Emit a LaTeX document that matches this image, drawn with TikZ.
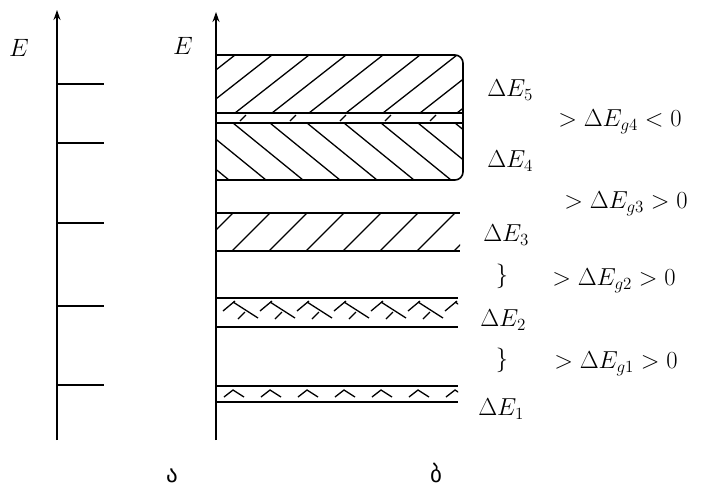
\documentclass[tikz,border=0pt]{standalone}
\usepackage{fontspec}
\newfontfamily\geofont{DejaVu Sans}
\usetikzlibrary{arrows.meta}
\tikzset{
  ax/.style={line width=1.7pt, -{Stealth[length=10pt,width=7pt]}},
  tick/.style={line width=1.6pt},
  bandline/.style={line width=1.6pt},
  hatch/.style={line width=1.3pt},
  lab/.style={font=\fontsize{17.28}{20}\selectfont, scale=1.42, transform shape, inner sep=0pt},
  axlab/.style={font=\fontsize{17.28}{20}\selectfont, scale=1.45, transform shape, inner sep=0pt},
  geo/.style={font=\geofont\fontsize{23}{26}\selectfont, inner sep=0pt}
}
\begin{document}
\begin{tikzpicture}[x=1pt,y=-1pt]
\useasboundingbox (0,0) rectangle (701,491);
% ---------- left diagram (a) ----------
\coordinate (la0) at (57,440);
\coordinate (la1) at (57,10);
\draw[ax] (la0) -- (la1);
\node[axlab] (lE) at (19,48) {$E$};
\foreach \y in {84,143,223,306,385}{
  \draw[tick] (57,\y) -- (104,\y);
}
\node[geo] (ga) at (172,476) {ა};
% ---------- right diagram (b) ----------
\coordinate (ra0) at (216,440);
\coordinate (ra1) at (216,12);
\draw[ax] (ra0) -- (ra1);
\node[axlab] (rE) at (183,46) {$E$};
\node[geo] (gb) at (436,473) {ბ};
% band 5 and 4 (overlapping block)
\begin{scope}
  \clip (216,55) rectangle (463,113);
  \foreach \k in {0,...,9}{
    \draw[hatch] ({235+37*\k},55) -- ({161+37*\k},113);
  }
\end{scope}
\begin{scope}
  \clip (216,123) rectangle (463,180);
  \foreach \k in {-3,...,7}{
    \draw[hatch] ({233+37*\k},123) -- ({303+37*\k},180);
  }
\end{scope}
\draw[bandline, rounded corners=8pt] (216,55) -- (463,55) -- (463,180) -- (216,180);
\draw[bandline] (216,113) -- (463,113);
\draw[bandline] (216,123) -- (463,123);
\foreach \x in {240,290,340,385,430}{
  \draw[hatch] (\x,121) -- ({\x+6},115);
}
% band 3
\begin{scope}
  \clip (216,213) rectangle (460,251);
  \foreach \k in {-1,...,7}{
    \draw[hatch] ({233+37*\k},213) -- ({195+37*\k},251);
  }
\end{scope}
\draw[bandline] (216,213) -- (460,213);
\draw[bandline] (216,251) -- (460,251);
% band 2
\begin{scope}
  \clip (216,298) rectangle (458,327);
  \foreach \k in {0,...,6}{
    \pgfmathsetmacro\xx{223+37*\k}
    \draw[hatch] (\xx,311) -- ({\xx+12},301);
    \draw[hatch] ({\xx+10},302) -- ({\xx+35},318);
    \draw[hatch] ({\xx+15},319) -- ({\xx+22},312);
  }
\end{scope}
\draw[bandline] (216,298) -- (458,298);
\draw[bandline] (216,327) -- (458,327);
% band 1
\begin{scope}
  \clip (216,386) rectangle (458,402);
  \foreach \k in {0,...,6}{
    \pgfmathsetmacro\xx{224+37*\k}
    \draw[hatch] (\xx,397) -- ({\xx+9},390) -- ({\xx+20},397);
  }
\end{scope}
\draw[bandline] (216,386) -- (458,386);
\draw[bandline] (216,402) -- (458,402);
% ---------- labels ----------
\node[lab, anchor=west] (dE5) at (487,90) {$\Delta E_5$};
\node[lab, anchor=west] (dE4) at (487,161) {$\Delta E_4$};
\node[lab, anchor=west] (dE3) at (483,235) {$\Delta E_3$};
\node[lab, anchor=west] (dE2) at (480,320) {$\Delta E_2$};
\node[lab, anchor=west] (dE1) at (478,409) {$\Delta E_1$};
\node[lab] (br2) at (502,276) {$\}$};
\node[lab] (br1) at (502,360) {$\}$};
\node[lab, anchor=west] (g4) at (558,122) {$>\Delta E_{g4}<0$};
\node[lab, anchor=west] (g3) at (564,204) {$>\Delta E_{g3}>0$};
\node[lab, anchor=west] (g2) at (552,281) {$>\Delta E_{g2}>0$};
\node[lab, anchor=west] (g1) at (554,364) {$>\Delta E_{g1}>0$};
\end{tikzpicture}
\end{document}
